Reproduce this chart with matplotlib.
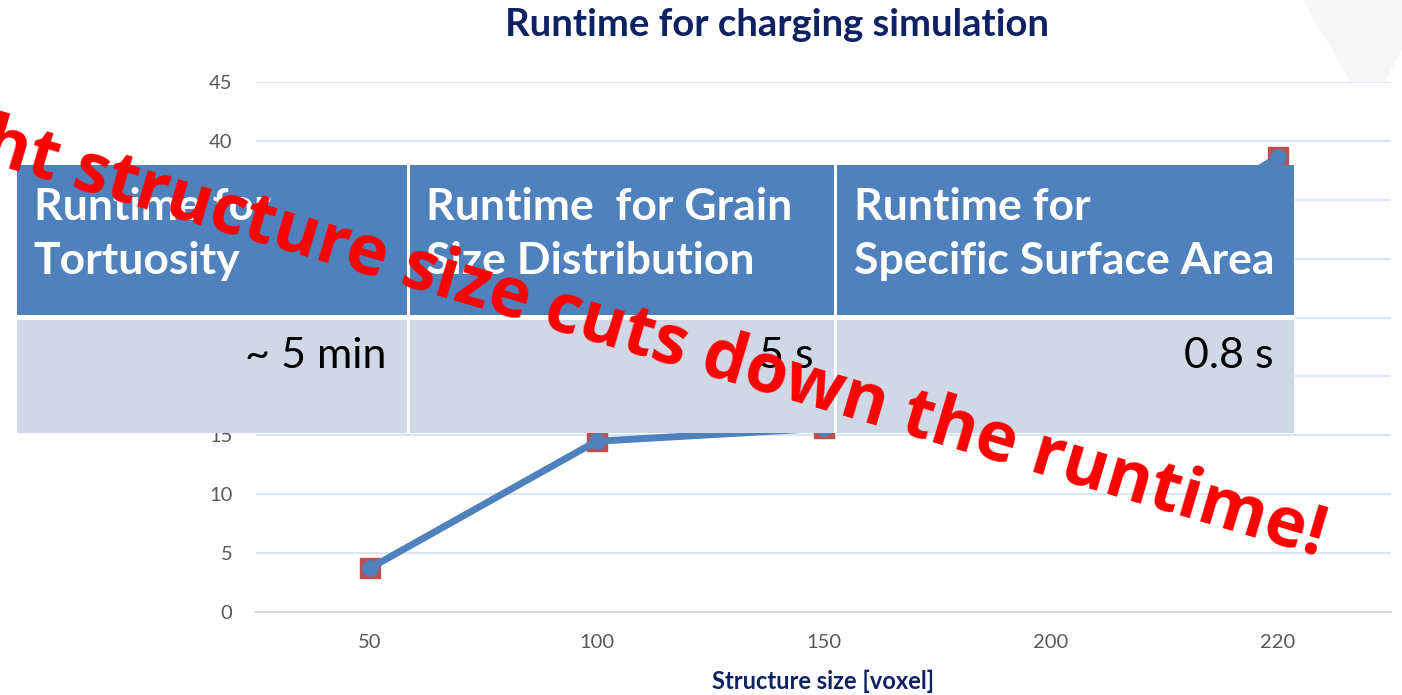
import matplotlib.pyplot as plt
from matplotlib.patches import Rectangle, Polygon

# Runtime vs. structure size (two series drawn on top of each other)
sizes = ["50", "100", "150", "200", "220"]
runtime_a = [3.7, 14.5, 15.6, 27.0, 38.6]
runtime_b = [3.7, 14.5, 15.6, 27.0, 38.6]

# Overlay table contents
table_headers = ["Runtime for\nTortuosity",
                 "Runtime  for Grain\nSize Distribution",
                 "Runtime for\nSpecific Surface Area"]
table_values = ["~ 5 min", "5 s", "0.8 s"]

banner = "Right structure size cuts down the runtime!"

plt.rcParams['font.family'] = ['Lato', 'DejaVu Sans']

W, H = 1402, 695
fig = plt.figure(figsize=(W / 100, H / 100), dpi=100)

# faint decorative triangle in the top right corner
fig.add_artist(Polygon([(1303 / W, 1.0), (1368 / W, 1 - 112 / H), (1.0, 1 - 50 / H), (1.0, 1.0)],
                       closed=True, transform=fig.transFigure, facecolor="#f6f6f6",
                       edgecolor="none", zorder=0))

ax = fig.add_axes([256 / W, (H - 612) / H, (1391 - 256) / W, (612 - 82) / H])
x = list(range(len(sizes)))
ax.plot(x, runtime_b, color="#c0504d", marker="s", markersize=14, linestyle="none", zorder=3)
ax.plot(x, runtime_a, color="#4f81bd", marker="o", markersize=11, linewidth=5, zorder=4)

ax.set_xlim(-0.5, len(sizes) - 0.5)
ax.set_ylim(0, 45)
ax.set_yticks(range(0, 46, 5))
ax.set_xticks(x)
ax.set_xticklabels(sizes)
ax.grid(axis="y", color="#dce6f2", linewidth=1.6)
ax.set_axisbelow(True)
for side in ["top", "right", "left"]:
    ax.spines[side].set_visible(False)
ax.spines["bottom"].set_color("#d9d9d9")
ax.spines["bottom"].set_linewidth(1.6)
ax.tick_params(length=0, labelsize=14.5, labelcolor="#595959")
ax.tick_params(axis="y", pad=17)
ax.tick_params(axis="x", pad=16)
ax.set_xlabel("Structure size [voxel]", fontsize=17, fontweight="bold", color="#0d2163", labelpad=13)
fig.text(777 / W, 1 - 25 / H, "Runtime for charging simulation", ha="center", va="center",
         fontsize=27.5, fontweight="bold", color="#0d2163")

# overlay layer in pixel coordinates for the table and banner
ov = fig.add_axes([0, 0, 1, 1], zorder=10)
ov.set_xlim(0, W)
ov.set_ylim(H, 0)
ov.axis("off")
ov.patch.set_alpha(0)

col_edges = [15, 408, 835, 1295]
head_top, head_bot = 165, 315
body_top, body_bot = 320, 433
# white backing so the gaps between cells stay white
ov.add_patch(Rectangle((col_edges[0], head_top), col_edges[-1] - col_edges[0], body_bot - head_top,
                       facecolor="white", edgecolor="none"))
for i, (hdr, val) in enumerate(zip(table_headers, table_values)):
    x0, x1 = col_edges[i] + 1.5, col_edges[i + 1] - 1.5
    ov.add_patch(Rectangle((x0, head_top), x1 - x0, head_bot - head_top,
                           facecolor="#4f81bd", edgecolor="none"))
    ov.add_patch(Rectangle((x0, body_top), x1 - x0, body_bot - body_top,
                           facecolor="#d0d8e8", edgecolor="none"))
    ov.text(x0 + 17, 234, hdr, ha="left", va="center", fontsize=32, fontweight="bold",
            color="white", linespacing=1.45)
    ov.text(x1 - 20, 356, val, ha="right", va="center", fontsize=31, color="black")

ov.text(603, 326, banner, ha="center", va="center", rotation=-16.5, rotation_mode="anchor",
        fontsize=50, fontweight="bold", color="#ff0000", family=["Open Sans", "DejaVu Sans"])

fig.savefig("out.png", dpi=100)
